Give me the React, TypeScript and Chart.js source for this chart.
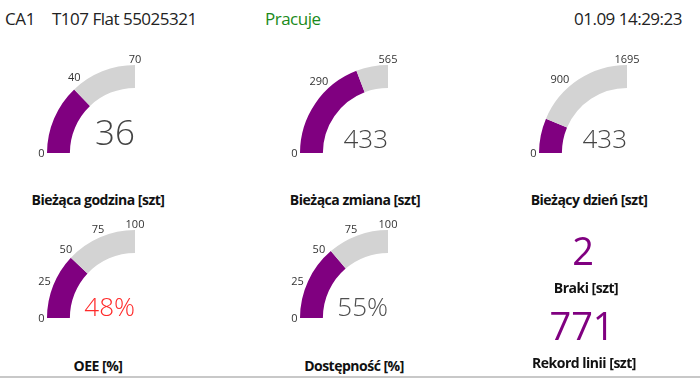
import React, { useEffect, useRef } from "react";
import { Chart, registerables } from "chart.js";

Chart.register(...registerables);

// ---- data ----
const gaugeTitles = ["Bieżąca godzina [szt]", "Bieżąca zmiana [szt]", "Bieżący dzień [szt]", "OEE [%]", "Dostępność [%]"];
const gaugeValues = [36, 433, 433, 48, 55];
const gaugeMax = [70, 565, 1695, 100, 100];
const gaugeTicks = [
  [0, 40, 70],
  [0, 290, 565],
  [0, 900, 1695],
  [0, 25, 50, 75, 100],
  [0, 25, 50, 75, 100],
];
const gaugeLabels = ["36", "433", "433", "48%", "55%"];
const statTitles = ["Braki [szt]", "Rekord linii [szt]"];
const statValues = ["2", "771"];
const headerLine = "CA1";
const headerMachine = "T107 Flat 55025321";
const headerStatus = "Pracuje";
const headerTime = "01.09 14:29:23";

// ---- layout / style ----
const FONT = "'Open Sans', 'Noto Sans', sans-serif";
const PURPLE = "#800080";
const GREY = "#d3d3d3";
const R = 88;
const PAD = { left: 44, top: 26, right: 14, bottom: 10 };
const gaugeLayout = [
  { cx: 135, cy: 153, size: 35, base: 145, color: "#444444", titleX: 98, titleY: 205 },
  { cx: 388, cy: 153, size: 26, base: 148, color: "#444444", titleX: 355, titleY: 205 },
  { cx: 627, cy: 153, size: 26, base: 148, color: "#444444", titleX: 589, titleY: 205 },
  { cx: 135, cy: 318, size: 26, base: 316, color: "#ff2a2a", titleX: 98, titleY: 371 },
  { cx: 388, cy: 318, size: 26, base: 316, color: "#505050", titleX: 354, titleY: 371 },
];

const gaugePlugin = {
  id: "gaugeText",
  afterDraw(chart: any) {
    const o = chart.options.plugins.gaugeText;
    const arc = chart.getDatasetMeta(0).data[0] as any;
    if (!arc) return;
    const { x, y, outerRadius } = arc;
    const ctx = chart.ctx;
    ctx.save();
    ctx.font = `400 11px ${FONT}`;
    ctx.fillStyle = "#333333";
    ctx.textAlign = "center";
    ctx.textBaseline = "alphabetic";
    const capH = 11 * 0.72;
    for (const t of o.ticks) {
      const a = Math.PI + (t / o.max) * (Math.PI / 2);
      const ux = Math.cos(a);
      const uy = Math.sin(a);
      const w = ctx.measureText(String(t)).width;
      const d = outerRadius + 2.5 + (w / 2) * Math.abs(ux) + (capH / 2) * Math.abs(uy);
      ctx.fillText(String(t), x + ux * d, y + uy * d + capH / 2);
    }
    ctx.font = `300 ${o.size}px ${FONT}`;
    ctx.fillStyle = o.color;
    ctx.textAlign = "right";
    ctx.fillText(o.label, x, y - (o.cy - o.base));
    ctx.restore();
  },
};

function Gauge({ i }: { i: number }) {
  const ref = useRef<HTMLCanvasElement>(null);
  const L = gaugeLayout[i];
  const w = PAD.left + R + PAD.right;
  const h = PAD.top + R + PAD.bottom;
  useEffect(() => {
    const chart = new Chart(ref.current!, {
      type: "doughnut",
      data: {
        labels: ["value", "rest"],
        datasets: [
          {
            data: [gaugeValues[i], gaugeMax[i] - gaugeValues[i]],
            backgroundColor: [PURPLE, GREY],
            borderWidth: 0,
            hoverOffset: 0,
          },
        ],
      },
      options: {
        responsive: false,
        animation: false,
        rotation: -90,
        circumference: 90,
        cutout: "74%",
        layout: { padding: PAD },
        events: [],
        plugins: {
          legend: { display: false },
          tooltip: { enabled: false },
          gaugeText: {
            ticks: gaugeTicks[i],
            max: gaugeMax[i],
            label: gaugeLabels[i],
            size: L.size,
            color: L.color,
            cy: L.cy,
            base: L.base,
          },
        } as any,
      },
      plugins: [gaugePlugin],
    });
    return () => chart.destroy();
  }, [i]);
  return (
    <canvas
      ref={ref}
      width={w}
      height={h}
      style={{ position: "absolute", left: L.cx - R - PAD.left, top: L.cy - R - PAD.top, width: w, height: h }}
    />
  );
}

function Txt({ x, y, size, weight = 400, color = "#111", align = "center", spacing = 0, children }: any) {
  const top = y - size * 0.888;
  const style: any = {
    position: "absolute",
    top,
    fontFamily: FONT,
    fontSize: size,
    fontWeight: weight,
    color,
    lineHeight: `${size}px`,
    whiteSpace: "nowrap",
    letterSpacing: spacing,
  };
  if (align === "center") {
    style.left = x - 200;
    style.width = 400;
    style.textAlign = "center";
  } else if (align === "left") {
    style.left = x;
  } else {
    style.right = 700 - x;
    style.textAlign = "right";
  }
  return <div style={style}>{children}</div>;
}

export default function App() {
  return (
    <div style={{ position: "absolute", left: 0, top: 0, width: 700, height: 378, background: "#fff", overflow: "hidden" }}>
      <Txt x={5} y={25} size={17} spacing={-0.4} align="left" color="#222">{headerLine}</Txt>
      <Txt x={52} y={25} size={17} spacing={-0.5} align="left" color="#222">{headerMachine}</Txt>
      <Txt x={265} y={25} size={17} spacing={-0.5} align="left" color="#1a8a1a">{headerStatus}</Txt>
      <Txt x={682} y={25} size={17} spacing={-0.5} align="right" color="#222">{headerTime}</Txt>
      {gaugeLayout.map((L, i) => (
        <React.Fragment key={i}>
          <Gauge i={i} />
          <Txt x={L.titleX} y={L.titleY} size={14} spacing={-0.5} weight={700} color="#111">{gaugeTitles[i]}</Txt>
        </React.Fragment>
      ))}
      <Txt x={583} y={265} size={38} color={PURPLE}>{statValues[0]}</Txt>
      <Txt x={586} y={293} size={14} spacing={-0.5} weight={700} color="#111">{statTitles[0]}</Txt>
      <Txt x={582} y={340} size={38} color={PURPLE}>{statValues[1]}</Txt>
      <Txt x={584} y={368} size={14} spacing={-0.5} weight={700} color="#111">{statTitles[1]}</Txt>
      <div style={{ position: "absolute", left: 0, top: 376, width: 700, height: 2, background: "#c8c8c8" }} />
    </div>
  );
}
